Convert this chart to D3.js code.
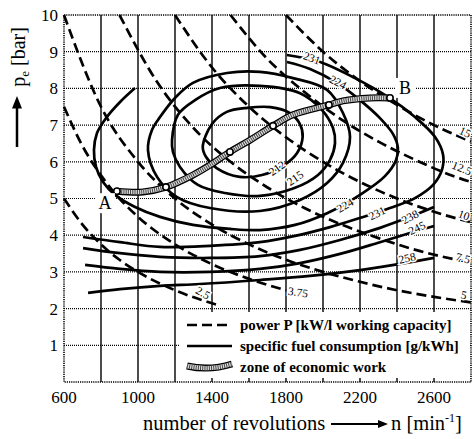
<!DOCTYPE html>
<html>
<head>
<meta charset="utf-8">
<script src="https://cdn.jsdelivr.net/npm/d3@7/dist/d3.min.js"></script>
<style>
  body { margin: 0; background: #fff; }
  text { font-family: "Liberation Serif", "Times New Roman", serif; fill: #000; }
</style>
</head>
<body>
<svg id="chart" width="474" height="439"></svg>
<script>
// axis ticks
const xTickLabels = [600, 1000, 1400, 1800, 2200, 2600];
const yTickLabels = [1, 2, 3, 4, 5, 6, 7, 8, 9, 10];
const gridRevs = [800, 1000, 1200, 1400, 1600, 1800, 2000, 2200, 2400, 2600];
const gridPe = [1, 2, 3, 4, 5, 6, 7, 8, 9];

// power lines P [kW/l] : [n, pe]
const power15 = [[1800, 10], [2000, 9.0], [2200, 8.2], [2400, 7.55], [2600, 7.0], [2800, 6.55]];
const power125 = [[1500, 10], [1700, 8.8], [1900, 7.9], [2100, 7.15], [2300, 6.55], [2500, 6.05], [2700, 5.62], [2800, 5.45]];
const power10 = [[1200, 10], [1400, 8.57], [1600, 7.5], [1800, 6.67], [2000, 6.0], [2200, 5.45], [2400, 5.0], [2600, 4.64], [2800, 4.35]];
const power75 = [[900, 10], [1100, 8.2], [1300, 6.92], [1500, 6.0], [1700, 5.3], [1900, 4.74], [2100, 4.29], [2300, 3.92], [2500, 3.6], [2800, 3.25]];
const power5 = [[600, 10], [800, 7.5], [1000, 6.0], [1200, 5.0], [1400, 4.29], [1600, 3.75], [1800, 3.33], [2000, 3.0], [2200, 2.73], [2400, 2.5], [2600, 2.32], [2800, 2.17]];
const power375 = [[600, 7.5], [700, 6.43], [800, 5.63], [900, 5.0], [1000, 4.5], [1200, 3.75], [1400, 3.21], [1600, 2.81], [1800, 2.5]];
const power25 = [[600, 5.0], [700, 4.29], [800, 3.75], [900, 3.33], [1000, 3.0], [1200, 2.5], [1430, 2.1]];

// specific fuel consumption g/kWh : [n, pe]
const sfc212 = [[1350, 6.4], [1400, 7.03], [1480, 7.36], [1590, 7.47], [1715, 7.49], [1820, 7.33], [1875, 7.03], [1890, 6.68], [1860, 6.24], [1790, 5.91], [1670, 5.64], [1550, 5.59], [1425, 5.83], [1368, 6.13]];
const sfc215 = [[1184, 6.59], [1216, 7.28], [1308, 7.68], [1443, 8.01], [1659, 8.07], [1876, 7.87], [1995, 7.41], [2054, 6.92], [2065, 6.51], [2038, 6.05], [1973, 5.64], [1849, 5.29], [1659, 5.07], [1470, 5.15], [1324, 5.37], [1227, 5.86], [1189, 6.27]];
const sfcOval3 = [[1054, 6.32], [1076, 6.87], [1119, 7.22], [1200, 7.74], [1297, 8.15], [1481, 8.42], [1659, 8.45], [1838, 8.28], [2022, 7.96], [2108, 7.33], [2146, 6.68], [2108, 5.97], [2022, 5.42], [1876, 4.96], [1659, 4.66], [1389, 4.74], [1211, 5.04], [1103, 5.59]];
const sfc224 = [[984, 8.01], [903, 7.63], [827, 7.19], [778, 6.78], [762, 6.32], [773, 5.86], [811, 5.45], [876, 5.10], [984, 4.77], [1119, 4.50], [1297, 4.28], [1497, 4.17], [1659, 4.14], [1849, 4.28], [2022, 4.60], [2200, 5.10], [2335, 5.61], [2395, 6.05], [2405, 6.38], [2378, 6.76], [2308, 7.19], [2200, 7.68], [2076, 8.15], [1930, 8.53], [1805, 8.72]];
const sfc231 = [[1805, 8.91], [1984, 8.72], [2173, 8.28], [2351, 7.77], [2497, 7.22], [2605, 6.68], [2649, 6.19], [2643, 5.78], [2595, 5.37], [2497, 5.01], [2362, 4.74], [2200, 4.47], [2038, 4.22], [1849, 3.98], [1659, 3.81], [1389, 3.71], [1119, 3.68], [903, 3.81], [703, 3.95]];
const sfc238 = [[2600, 4.77], [2470, 4.50], [2308, 4.20], [2092, 3.87], [1876, 3.60], [1659, 3.43], [1389, 3.38], [1119, 3.41], [903, 3.51], [703, 3.65]];
const sfc245 = [[2600, 4.25], [2470, 4.06], [2308, 3.81], [2092, 3.49], [1876, 3.24], [1659, 3.08], [1389, 3.00], [1119, 3.00], [903, 3.08], [714, 3.19]];
const sfc258 = [[2600, 3.38], [2416, 3.22], [2200, 3.05], [1930, 2.89], [1659, 2.78], [1335, 2.67], [1119, 2.62], [903, 2.53], [730, 2.43]];

// zone of economic work A -> B
const econZone = [[886, 5.20], [1027, 5.18], [1151, 5.31], [1297, 5.64], [1389, 5.91], [1497, 6.27], [1605, 6.59], [1730, 6.98], [1838, 7.28], [2032, 7.55], [2108, 7.66], [2254, 7.74], [2362, 7.74]];
const econMarks = [[886, 5.20], [1151, 5.31], [1497, 6.27], [1730, 6.98], [2032, 7.55], [2362, 7.74]];

const powerLines = [power15, power125, power10, power75, power5, power375, power25];
const closedContours = [sfc212, sfc215, sfcOval3];
const openContours = [sfc224, sfc231, sfc238, sfc245, sfc258];

// curve labels: text, n, pe, angle
const curveLabels = [
  ["231", 1940, 8.83, 20], ["224", 2081, 8.17, 28],
  ["212", 1751, 5.83, -35], ["215", 1849, 5.56, -35],
  ["224", 2119, 4.82, -30], ["231", 2292, 4.60, -25],
  ["238", 2470, 4.50, -28], ["245", 2508, 4.20, -25], ["258", 2454, 3.38, -12],
  ["15", 2768, 6.81, 25], ["12.5", 2751, 5.83, 22], ["10", 2762, 4.55, 20],
  ["7.5", 2757, 3.38, 15], ["5", 2762, 2.37, 12], ["3.75", 1865, 2.45, 8], ["2.5", 1351, 2.43, 30]
];

const legendItems = ["power P [kW/l working capacity]", "specific fuel consumption [g/kWh]", "zone of economic work"];

let svg = d3.select("#chart");

let x = d3.scaleLinear().domain([600, 2800]).range([64, 471]);
let y = d3.scaleLinear().domain([0, 10]).range([382, 15]);

let plot = svg.append("g");

// grid
plot.selectAll(".vgrid").data(gridRevs).enter().append("line")
  .attr("x1", d => x(d)).attr("x2", d => x(d))
  .attr("y1", y(10)).attr("y2", y(0))
  .attr("stroke", "#000").attr("stroke-width", 1.4);

plot.selectAll(".hgrid").data(gridPe).enter().append("line")
  .attr("x1", x(600)).attr("x2", x(2800))
  .attr("y1", d => y(d)).attr("y2", d => y(d))
  .attr("stroke", "#000").attr("stroke-width", 1.2)
  .attr("stroke-dasharray", "1,1");

plot.append("rect")
  .attr("x", x(600)).attr("y", y(10))
  .attr("width", x(2800) - x(600)).attr("height", y(0) - y(10))
  .attr("fill", "none").attr("stroke", "#000").attr("stroke-width", 1.6)
  .attr("stroke-dasharray", "1.2,1");

// power lines
let powerLine = d3.line().x(d => x(d[0])).y(d => y(d[1])).curve(d3.curveMonotoneX);

plot.selectAll(".power").data(powerLines).enter().append("path")
  .attr("d", powerLine)
  .attr("fill", "none").attr("stroke", "#000")
  .attr("stroke-width", 2.7).attr("stroke-dasharray", "10,5");

// fuel consumption contours
let closedLine = d3.line().x(d => x(d[0])).y(d => y(d[1])).curve(d3.curveCatmullRomClosed.alpha(0.5));
let openLine = d3.line().x(d => x(d[0])).y(d => y(d[1])).curve(d3.curveCatmullRom.alpha(0.5));

plot.selectAll(".sfcClosed").data(closedContours).enter().append("path")
  .attr("d", closedLine)
  .attr("fill", "none").attr("stroke", "#000").attr("stroke-width", 2.7);

plot.selectAll(".sfcOpen").data(openContours).enter().append("path")
  .attr("d", openLine)
  .attr("fill", "none").attr("stroke", "#000").attr("stroke-width", 2.7);

// economic zone band (outlined, hatched)
function drawBand(g, d) {
  g.append("path").attr("d", d).attr("fill", "none")
    .attr("stroke", "#000").attr("stroke-width", 7).attr("stroke-linecap", "butt");
  g.append("path").attr("d", d).attr("fill", "none")
    .attr("stroke", "#ddd").attr("stroke-width", 4.4);
  g.append("path").attr("d", d).attr("fill", "none")
    .attr("stroke", "#444").attr("stroke-width", 4.4).attr("stroke-dasharray", "1,1.2");
}

drawBand(plot, openLine(econZone));

plot.selectAll(".mark").data(econMarks).enter().append("circle")
  .attr("cx", d => x(d[0])).attr("cy", d => y(d[1])).attr("r", 3.2)
  .attr("fill", "#fff").attr("stroke", "#000").attr("stroke-width", 1.6);

// curve labels
plot.selectAll(".clabel").data(curveLabels).enter().append("text")
  .attr("transform", d => "translate(" + x(d[1]) + "," + y(d[2]) + ") rotate(" + d[3] + ")")
  .attr("text-anchor", "middle").attr("dy", "0.35em")
  .style("font-size", "11.5px")
  .attr("stroke", "#fff").attr("stroke-width", 3).attr("paint-order", "stroke")
  .text(d => d[0]);

// A and B
[["A", 886, 5.20, -12, 12], ["B", 2362, 7.74, 15, -10]].forEach(p => {
  let px = x(p[1]) + p[3], py = y(p[2]) + p[4];
  plot.append("rect").attr("x", px - 10).attr("y", py - 10).attr("width", 20).attr("height", 20).attr("fill", "#fff");
  plot.append("text").attr("x", px).attr("y", py).attr("dy", "0.35em")
    .attr("text-anchor", "middle").style("font-size", "18px").text(p[0]);
});

// legend
let legend = svg.append("g");
legend.append("rect").attr("x", 180).attr("y", 312).attr("width", 290).attr("height", 66).attr("fill", "#fff");

let lx0 = 187, lx1 = 232;
legend.append("line").attr("x1", lx0).attr("x2", lx1).attr("y1", 325).attr("y2", 325)
  .attr("stroke", "#000").attr("stroke-width", 2.7).attr("stroke-dasharray", "10,5");
legend.append("line").attr("x1", lx0).attr("x2", lx1).attr("y1", 346).attr("y2", 346)
  .attr("stroke", "#000").attr("stroke-width", 2.7);
drawBand(legend, "M" + lx0 + ",366 Q" + ((lx0 + lx1) / 2) + ",371 " + lx1 + ",364");

legend.selectAll(".ltext").data(legendItems).enter().append("text")
  .attr("x", 240).attr("y", (d, i) => 330 + i * 21)
  .style("font-size", "15px").style("font-weight", "bold")
  .text(d => d);

// axis tick labels
svg.selectAll(".ytick").data(yTickLabels).enter().append("text")
  .attr("x", 58).attr("y", d => y(d)).attr("dy", "0.35em")
  .attr("text-anchor", "end").style("font-size", "17px")
  .text(d => d);

svg.selectAll(".xtick").data(xTickLabels).enter().append("text")
  .attr("x", d => x(d)).attr("y", 403)
  .attr("text-anchor", "middle").style("font-size", "17px")
  .text(d => d);

// arrow head marker
let defs = svg.append("defs");
defs.append("marker").attr("id", "arr").attr("viewBox", "0 0 10 10")
  .attr("refX", 2).attr("refY", 5).attr("markerWidth", 5).attr("markerHeight", 5)
  .attr("markerUnits", "strokeWidth").attr("orient", "auto")
  .append("path").attr("d", "M0,1 L10,5 L0,9 z").attr("fill", "#000");

// x title
svg.append("text").attr("x", 143).attr("y", 430).style("font-size", "20.5px").text("number of revolutions");
svg.append("line").attr("x1", 331).attr("x2", 380).attr("y1", 424).attr("y2", 424)
  .attr("stroke", "#000").attr("stroke-width", 2).attr("marker-end", "url(#arr)");
let nt = svg.append("text").attr("x", 391).attr("y", 430).style("font-size", "20.5px");
nt.append("tspan").text("n [min");
nt.append("tspan").attr("dy", -8).style("font-size", "12px").text("-1");
nt.append("tspan").attr("dy", 8).text("]");

// y title
let yt = svg.append("text").attr("transform", "translate(25,57) rotate(-90)")
  .attr("text-anchor", "middle").style("font-size", "20px");
yt.append("tspan").text("p");
yt.append("tspan").attr("dy", 4).style("font-size", "13px").text("e");
yt.append("tspan").attr("dy", -4).text(" [bar]");
svg.append("line").attr("x1", 17).attr("x2", 17).attr("y1", 147).attr("y2", 106)
  .attr("stroke", "#000").attr("stroke-width", 2.5).attr("marker-end", "url(#arr)");
</script>
</body>
</html>
